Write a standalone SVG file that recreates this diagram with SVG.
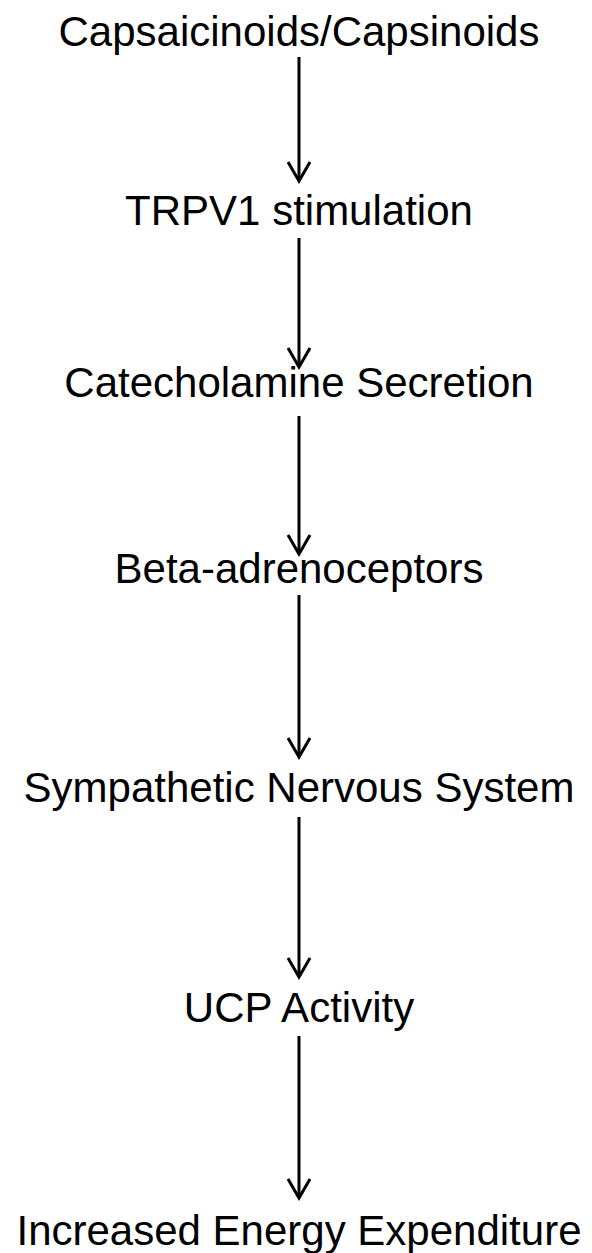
<svg xmlns="http://www.w3.org/2000/svg" width="592" height="1253" viewBox="0 0 592 1253">
<style>
text{font-family:"Liberation Sans",Arial,sans-serif;font-size:42px;fill:#000;text-anchor:middle}
.c line,.c path{stroke:#000;stroke-width:3;fill:none}
</style>
<rect width="592" height="1253" fill="#fff"/>
<g class="c" id="connectors">
<line x1="299" y1="57" x2="299" y2="181"/><path d="M288,162 L299,181 L310,162"/>
<line x1="299" y1="238" x2="299" y2="367"/><path d="M288,348 L299,367 L310,348"/>
<line x1="299" y1="416" x2="299" y2="554"/><path d="M288,535 L299,554 L310,535"/>
<line x1="299" y1="595" x2="299" y2="757"/><path d="M288,738 L299,757 L310,738"/>
<line x1="299" y1="817" x2="299" y2="977"/><path d="M288,958 L299,977 L310,958"/>
<line x1="299" y1="1036" x2="299" y2="1198"/><path d="M288,1179 L299,1198 L310,1179"/>
</g>
<g id="n1"><text x="299" y="46">Capsaicinoids/Capsinoids</text></g>
<g id="n2"><text x="299" y="225">TRPV1 stimulation</text></g>
<g id="n3"><text x="299" y="397">Catecholamine Secretion</text></g>
<g id="n4"><text x="299" y="583">Beta-adrenoceptors</text></g>
<g id="n5"><text x="299" y="802">Sympathetic Nervous System</text></g>
<g id="n6"><text x="299" y="1022">UCP Activity</text></g>
<g id="n7"><text x="299" y="1245">Increased Energy Expenditure</text></g>
</svg>
